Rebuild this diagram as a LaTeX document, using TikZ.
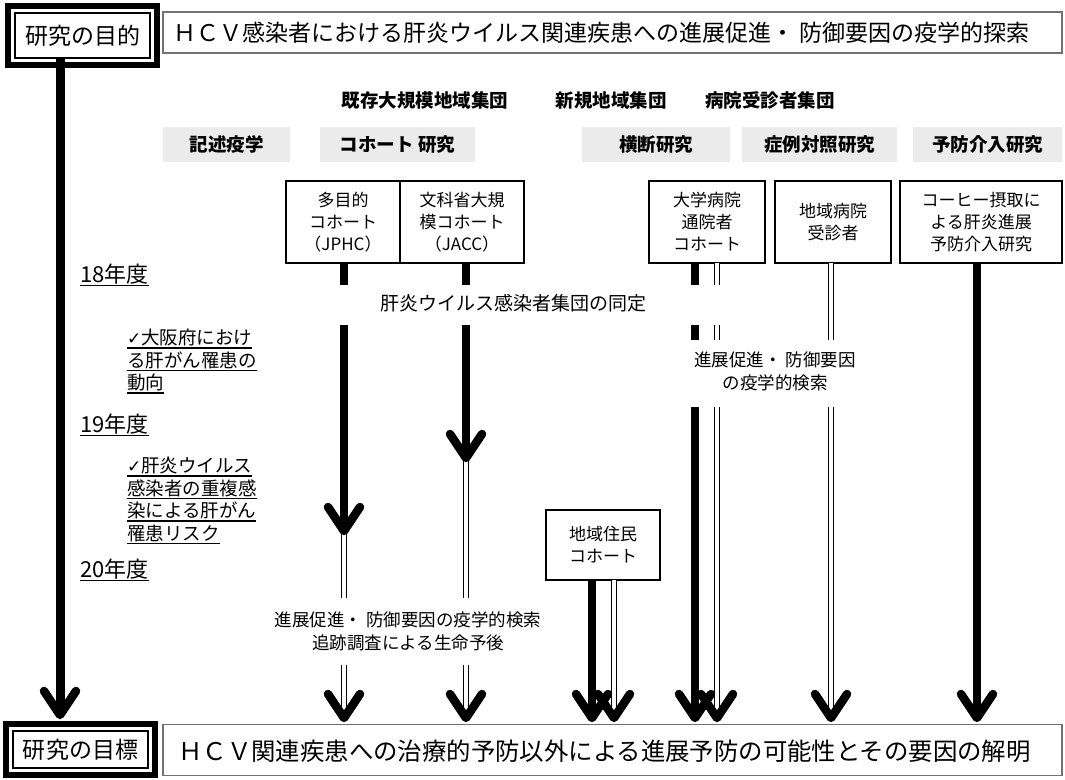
\documentclass[tikz,border=0pt]{standalone}
\usepackage{fontspec}
\setmainfont{Noto Sans CJK JP}
\newfontfamily\dejavu{DejaVu Sans}
\usetikzlibrary{calc}
\newcommand\fsz[2]{\fontsize{#1pt}{#2pt}\selectfont}
\newcommand\myul[1]{\setbox0=\hbox{#1}\rlap{\rule[-4pt]{\wd0}{1.3pt}}\box0}
\newcommand\chk{{\dejavu\fontsize{17pt}{17pt}\selectfont ✓}}
\tikzset{
  inbox/.style={draw, line width=1.6pt, inner sep=0pt, outer sep=0pt, font=\fsz{23}{26}},
  titlebox/.style={draw=black!55, line width=1.4pt, inner sep=0pt, outer sep=0pt, minimum width=899pt},
  wbox/.style={draw, line width=1.3pt, inner sep=0pt, outer sep=0pt, align=center, font=\fsz{17}{22}, minimum height=82pt},
  catbox/.style={fill=black!8, inner sep=0pt, minimum height=35pt, font=\bfseries\fsz{18.5}{22}},
  grp/.style={font=\bfseries\fsz{18.5}{22}, inner sep=0pt},
  year/.style={anchor=west, font=\fsz{22}{26}, inner sep=0pt},
  note/.style={anchor=north west, align=left, font=\fsz{18.5}{22.5}, inner sep=0pt},
  lbl/.style={align=center, font=\fsz{17.5}{23}, inner sep=0pt},
  blk/.style={line width=8pt},
  dbl/.style={line width=1.3pt, double=white, double distance=3.6pt},
  chev/.pic={\draw[line width=8.5pt, line cap=round, line join=round] (-16,-28) -- (0,-4) -- (16,-28);}
}
\begin{document}
\begin{tikzpicture}[x=1pt,y=-1pt]
\useasboundingbox (0,0) rectangle (1065,779);

% top
\node[inbox, minimum width=135.5pt, minimum height=45.5pt] (mokuteki) at (82.5,35.5) {研究の目的};
\draw[line width=6pt] ([shift={(-6.8pt,6.8pt)}]mokuteki.north west) rectangle ([shift={(6.8pt,-6.8pt)}]mokuteki.south east);
\node[titlebox, minimum height=41pt] (mbox) at (612.5,32.5) {};
\node[anchor=west, font=\fsz{23}{26}, inner sep=0pt] (mtext) at (173,33) {ＨＣＶ感染者における肝炎ウイルス関連疾患への進展促進・ 防御要因の疫学的探索};

% group headers
\node[grp] (kison) at (425,100) {既存大規模地域集団};
\node[grp] (shinki) at (611,100) {新規地域集団};
\node[grp] (byouin) at (770,100) {病院受診者集団};

% categories
\node[catbox, minimum width=127pt] (kijutsu) at (226.5,144.5) {記述疫学};
\node[catbox, minimum width=155pt] (cohort) at (397.5,144.5) {コホート 研究};
\node[catbox, minimum width=148pt] (oudan) at (656,144.5) {横断研究};
\node[catbox, minimum width=155pt] (shourei) at (819.5,144.5) {症例対照研究};
\node[catbox, minimum width=149pt] (yobou) at (987.5,144.5) {予防介入研究};

% study boxes
\node[wbox, minimum width=114pt] (jphc) at (343,222) {多目的\\コホート\\（JPHC）};
\node[wbox, minimum width=124pt] (jacc) at (462,222) {文科省大規\\模コホート\\（JACC）};
\node[wbox, minimum width=116pt] (daigaku) at (707,222) {大学病院\\通院者\\コホート};
\node[wbox, minimum width=116pt] (chiiki) at (833,222) {地域病院\\受診者};
\node[wbox, minimum width=162pt] (coffee) at (981,222) {コーヒー摂取に\\よる肝炎進展\\予防介入研究};
\node[wbox, minimum width=114pt, minimum height=70pt] (jumin) at (603,545) {地域住民\\コホート};

% years and notes
\node[year] (y18) at (80,275) {\myul{18年度}};
\node[year] (y19) at (80,425) {\myul{19年度}};
\node[year] (y20) at (80,570) {\myul{20年度}};
\node[note] (n1) at (127,329) {\myul{\chk 大阪府におけ}\\\myul{る肝がん罹患の}\\\myul{動向}};
\node[note] (n2) at (127,457) {\myul{\chk 肝炎ウイルス}\\\myul{感染者の重複感}\\\myul{染による肝がん}\\\myul{罹患リスク}};

% labels
\node[lbl, font=\fsz{19}{22}] (doutei) at (513,303) {肝炎ウイルス感染者集団の同定};
\node[lbl, font=\fsz{17.5}{23}] (kensa1) at (775,371) {進展促進・ 防御要因\\の疫学的検索};
\node[lbl] (kensa2) at (408,631) {進展促進・ 防御要因の疫学的検索\\追跡調査による生命予後};

% bottom
\node[inbox, minimum width=135.5pt, minimum height=37.5pt] (mokuhyo) at (80.5,749.5) {研究の目標};
\draw[line width=6pt] ([shift={(-6.8pt,6.8pt)}]mokuhyo.north west) rectangle ([shift={(6.8pt,-6.8pt)}]mokuhyo.south east);
\node[titlebox, minimum height=51pt] (gbox) at (612.5,750) {};
\node[anchor=west, font=\fsz{24.4}{28}, inner sep=0pt] (gtext) at (178,751) {ＨＣＶ関連疾患への治療的予防以外による進展予防の可能性とその要因の解明};

% left arrow
\coordinate (lt) at (60,719);
\draw[line width=9pt] ([xshift=-22.5pt]mokuteki.south) -- ($(lt)+(0,-8)$);
\pic at (lt) {chev};

% JPHC column
\coordinate (a1) at (344,285);
\coordinate (a2) at (344,325);
\coordinate (a3) at (344,535);
\coordinate (a4) at (344,598);
\coordinate (a5) at (344,665);
\coordinate (a6) at (344,722);
\draw[blk] ([xshift=1pt]jphc.south) -- (a1);
\draw[blk] (a2) -- ($(a3)+(0,-8)$);
\draw[dbl] ($(a3)+(0,-4)$) -- (a4);
\draw[dbl] (a5) -- ($(a6)+(0,-6)$);
\pic at (a3) {chev};
\pic at (a6) {chev};

% JACC column
\coordinate (b1) at (466,285);
\coordinate (b2) at (466,325);
\coordinate (b3) at (466,462);
\coordinate (b4) at (466,598);
\coordinate (b5) at (466,665);
\coordinate (b6) at (466,722);
\draw[blk] ([xshift=4pt]jacc.south) -- (b1);
\draw[blk] (b2) -- ($(b3)+(0,-8)$);
\draw[dbl] ($(b3)+(0,-4)$) -- (b4);
\draw[dbl] (b5) -- ($(b6)+(0,-6)$);
\pic at (b3) {chev};
\pic at (b6) {chev};

% university hospital column
\coordinate (c1) at (695,285);
\coordinate (c2) at (695,325);
\coordinate (c3) at (695,340);
\coordinate (c4) at (695,407);
\coordinate (c5) at (695,722);
\draw[blk] ([xshift=-12pt]daigaku.south) -- (c1);
\draw[blk] (c2) -- (c3);
\draw[blk] (c4) -- ($(c5)+(0,-8)$);
\coordinate (d1) at (717,285);
\coordinate (d2) at (717,325);
\coordinate (d3) at (717,340);
\coordinate (d4) at (717,407);
\coordinate (d5) at (717,722);
\draw[dbl] ([xshift=10pt]daigaku.south) -- (d1);
\draw[dbl] (d2) -- (d3);
\draw[dbl] (d4) -- ($(d5)+(0,-6)$);

% regional hospital column
\coordinate (e1) at (831,340);
\coordinate (e2) at (831,407);
\coordinate (e3) at (831,722);
\draw[dbl] ([xshift=-2pt]chiiki.south) -- (e1);
\draw[dbl] (e2) -- ($(e3)+(0,-6)$);

% coffee column
\coordinate (f1) at (977,722);
\draw[blk] ([xshift=-4pt]coffee.south) -- ($(f1)+(0,-8)$);

% residents column
\coordinate (g1) at (592,722);
\coordinate (h1) at (614,722);
\draw[blk] ([xshift=-11pt]jumin.south) -- ($(g1)+(0,-8)$);
\draw[dbl] ([xshift=11pt]jumin.south) -- ($(h1)+(0,-6)$);

\pic at (c5) {chev};
\pic at (d5) {chev};
\pic at (e3) {chev};
\pic at (f1) {chev};
\pic at (g1) {chev};
\pic at (h1) {chev};
\end{tikzpicture}
\end{document}
